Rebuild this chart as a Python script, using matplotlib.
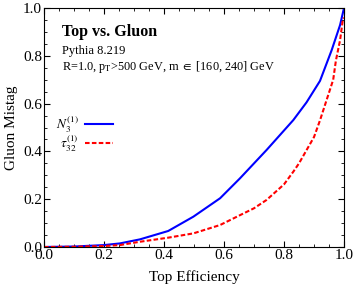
import matplotlib
matplotlib.use("Agg")
import matplotlib.pyplot as plt
from matplotlib.ticker import MultipleLocator

plt.rcParams["font.family"] = ["Liberation Serif", "DejaVu Serif"]
plt.rcParams["mathtext.fontset"] = "stix"

# top efficiency vs gluon mistag
n3_eff = [0.0, 0.1, 0.2, 0.253, 0.32, 0.414, 0.498, 0.587, 0.653, 0.742, 0.831, 0.875, 0.92, 0.959, 0.987, 1.0]
n3_mistag = [0.0, 0.002, 0.008, 0.015, 0.032, 0.067, 0.127, 0.204, 0.287, 0.406, 0.531, 0.605, 0.695, 0.824, 0.929, 1.0]

tau32_eff = [0.0, 0.1, 0.2, 0.253, 0.32, 0.414, 0.498, 0.587, 0.653, 0.7, 0.742, 0.8, 0.831, 0.85, 0.9, 0.92, 0.942, 0.964, 0.973, 0.987, 0.996, 1.0]
tau32_mistag = [0.0, 0.001, 0.004, 0.008, 0.022, 0.039, 0.057, 0.092, 0.133, 0.162, 0.197, 0.262, 0.315, 0.35, 0.46, 0.53, 0.615, 0.70, 0.78, 0.866, 0.95, 0.96]

fig = plt.figure(figsize=(3.54, 2.91), dpi=100)
ax = fig.add_axes([44 / 354, 44 / 291, 300 / 354, 239 / 291])

ax.plot(n3_eff, n3_mistag, color="#0000ff", lw=1.5, label=r"$N_3^{(1)}$")
ax.plot(tau32_eff, tau32_mistag, color="#ff0000", lw=1.5, ls=(0, (2.2, 1.1)), label=r"$\tau_{32}^{(1)}$")

ax.set_xlim(0, 1)
ax.set_ylim(0, 1)
ax.xaxis.set_major_locator(MultipleLocator(0.2))
ax.yaxis.set_major_locator(MultipleLocator(0.2))
ax.xaxis.set_minor_locator(MultipleLocator(0.05))
ax.yaxis.set_minor_locator(MultipleLocator(0.05))
ax.tick_params(which="both", direction="in", top=True, right=True, labelsize=11)
ax.tick_params(which="major", length=4)
ax.tick_params(which="minor", length=2)
ax.tick_params(axis="x", pad=1.5)
ax.tick_params(axis="y", pad=1.5)
ax.set_xlabel("Top Efficiency", fontsize=11, labelpad=6)
ax.set_ylabel("Gluon Mistag", fontsize=11)
ax.yaxis.set_label_coords(-0.085, 0.5)

ax.text(0.06, 0.90, "Top vs. Gluon", transform=ax.transAxes, fontsize=11.5, fontweight="bold", va="center")
ax.text(0.06, 0.821, "Pythia 8.219", transform=ax.transAxes, fontsize=9, va="center")
ax.text(0.06, 0.755, r"R=1.0, p$_\mathrm{T}$>500 GeV, m $\in$ [160, 240] GeV",
        transform=ax.transAxes, fontsize=8.8, va="center")

ax.legend(loc="center left", bbox_to_anchor=(0.0, 0.473), frameon=False, fontsize=9.5,
          handlelength=2.1, handletextpad=0.5, labelspacing=-0.1, markerfirst=False)

fig.savefig("out.png", dpi=100)
